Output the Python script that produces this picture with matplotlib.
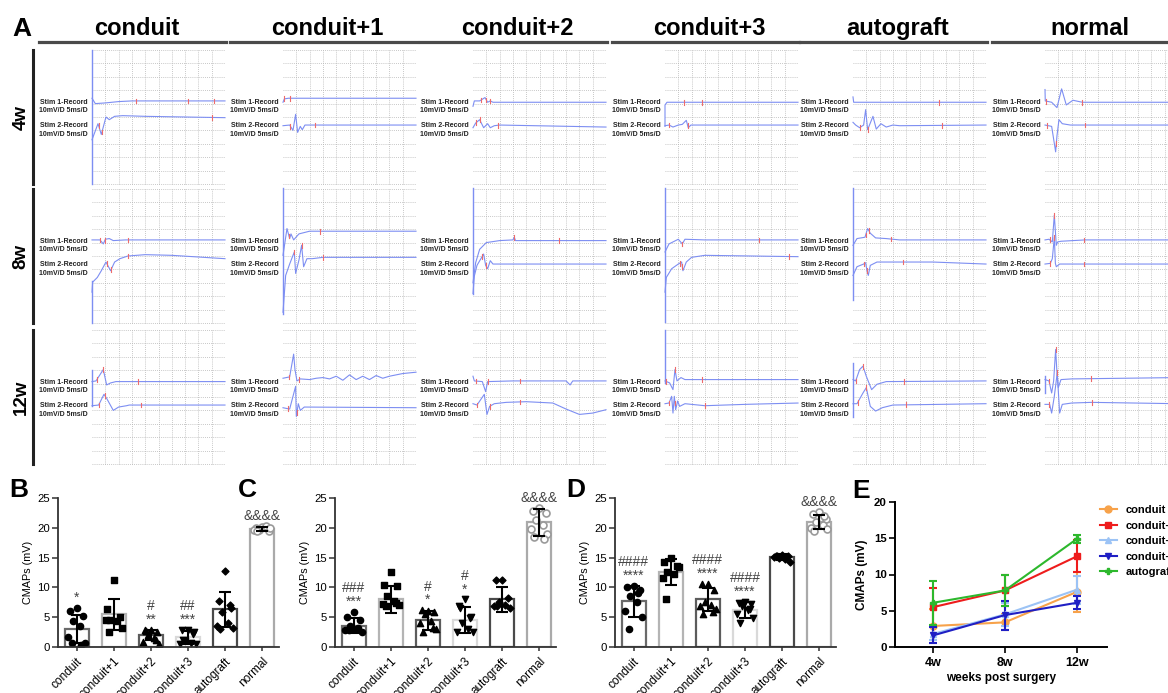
import numpy as np
import matplotlib
matplotlib.use('Agg')
import matplotlib.pyplot as plt
from matplotlib.lines import Line2D

# ---------------- data ----------------
groups = ['conduit', 'conduit+1', 'conduit+2', 'conduit+3', 'autograft', 'normal']
weeks = ['4w', '8w', '12w']

# Panel A traces: points (x div, y div) for Stim1 (s1) and Stim2 (s2); red marker x (k1/k2); artifact span
a4_conduit = dict(s1=[(0, 6.4), (0.25, 6.0), (1.0, 6.05), (2.0, 6.15), (3.0, 6.2), (10, 6.2)], k1=[3.3, 7.2, 9.2],
                  s2=[(0, 3.3), (0.45, 4.5), (0.7, 3.7), (1.05, 5.0), (1.3, 4.8), (1.7, 5.05), (2.3, 5.1), (4, 5.05), (10, 4.95)], k2=[0.5, 0.75, 9.0], art=(0, 10))
a4_conduit1 = dict(s1=[(0, 6.1), (0.1, 6.35), (0.4, 6.4), (10, 6.4)], k1=[0.1, 0.5],
                   s2=[(0, 4.35), (0.5, 4.4), (0.75, 4.0), (0.95, 5.2), (1.1, 3.85), (1.3, 4.3), (1.45, 4.05), (1.65, 4.4), (10, 4.4)], k2=[0.55, 2.4], art=None)
a4_conduit2 = dict(s1=[(0, 5.8), (0.1, 6.2), (0.5, 6.2), (0.9, 6.45), (1.1, 6.1), (1.3, 6.2), (1.5, 6.1), (10, 6.1)], k1=[0.6, 1.0, 1.3],
                   s2=[(0, 4.2), (0.2, 4.55), (0.5, 4.8), (0.8, 4.2), (1.1, 4.5), (1.3, 4.2), (1.6, 4.35), (2.0, 4.4), (10, 4.25)], k2=[0.25, 0.5, 1.9], art=None)
a4_conduit3 = dict(s1=[(0, 4.3), (0, 5.9), (0.15, 6.1), (10, 6.1)], k1=[1.4, 2.8],
                   s2=[(0, 4.35), (0.3, 4.4), (0.6, 4.25), (1.0, 4.4), (1.3, 4.45), (1.6, 4.75), (1.75, 4.2), (1.95, 4.4), (10, 4.4)], k2=[0.3, 1.7], art=None)
a4_autograft = dict(s1=[(0, 6.5), (0.05, 6.1), (10, 6.1)], k1=[6.45],
                    s2=[(0, 4.6), (0.2, 4.4), (0.5, 4.2), (0.8, 4.4), (0.95, 5.55), (1.1, 4.05), (1.5, 5.05), (1.75, 4.1), (2.1, 4.5), (2.5, 4.25), (3.0, 4.4), (3.5, 4.35), (10, 4.4)], k2=[0.5, 1.1, 6.7], art=None)
a4_normal = dict(s1=[(0, 7.05), (0.02, 6.2), (0.5, 6.1), (0.9, 5.7), (1.25, 7.1), (1.6, 5.9), (2.1, 6.25), (2.8, 6.1), (10, 6.1)], k1=[0.1, 2.8],
                 s2=[(0, 4.4), (0.5, 4.3), (0.8, 2.4), (0.9, 3.6), (1.05, 4.8), (1.3, 4.5), (1.9, 4.4), (10, 4.4)], k2=[0.15, 0.85, 3.0], art=None)

a8_conduit = dict(s1=[(0, 6.2), (0.6, 6.2), (0.85, 5.9), (1.0, 6.25), (1.3, 6.3), (1.6, 6.15), (2.5, 6.2), (10, 6.2)], k1=[0.6, 0.95, 2.7],
                  s2=[(0, 2.3), (0.05, 3.05), (0.4, 3.4), (0.7, 3.9), (1.05, 4.55), (1.4, 3.9), (1.7, 4.55), (2.1, 4.8), (2.7, 5.0), (4, 5.1), (6, 5.05), (10, 4.8)], k2=[1.1, 1.45, 2.7], art=(0, 3.1))
a8_conduit1 = dict(s1=[(0, 5.05), (0.3, 7.05), (0.5, 6.3), (0.6, 6.65), (0.8, 6.2), (1.2, 6.65), (2.0, 6.85), (10, 6.85)], k1=[0.45, 2.8],
                   s2=[(0, 0.8), (0.2, 3.55), (0.5, 4.4), (0.85, 5.3), (0.95, 3.7), (1.2, 4.7), (1.4, 5.8), (1.55, 4.2), (1.8, 4.8), (2.2, 4.8), (3.0, 4.9), (10, 4.9)], k2=[0.85, 1.4, 3.0], art=(0.7, 10.1))
a8_conduit2 = dict(s1=[(0, 3.0), (0.2, 4.5), (0.5, 5.5), (1.0, 6.0), (2.0, 6.15), (3.0, 6.2), (3.1, 6.4), (3.2, 6.15), (10, 6.15)], k1=[3.1, 6.5],
                   s2=[(0, 2.2), (0.1, 3.5), (0.3, 4.3), (0.8, 5.15), (0.95, 4.3), (1.1, 4.05), (1.3, 4.65), (1.5, 4.4), (10, 4.4)], k2=[0.7, 0.95], art=(2.2, 10.1))
a8_conduit3 = dict(s1=[(0, 5.3), (0.3, 5.9), (1.0, 6.25), (1.3, 5.9), (1.5, 6.25), (3, 6.2), (10, 6.2)], k1=[1.3, 7.1],
                   s2=[(0, 2.3), (0.1, 3.4), (0.5, 4.05), (1.0, 4.4), (1.25, 4.55), (1.35, 3.9), (1.6, 4.55), (2.0, 4.9), (3.0, 5.05), (10, 4.95)], k2=[1.1, 1.3, 9.3], art=(0.05, 10.1))
a8_autograft = dict(s1=[(0, 5.8), (0.3, 6.3), (0.9, 6.4), (1.1, 7.05), (1.3, 6.7), (1.7, 6.35), (2.5, 6.3), (3.5, 6.2), (10, 6.2)], k1=[0.95, 1.2, 2.85],
                    s2=[(0, 3.55), (0.3, 4.2), (0.8, 4.4), (0.95, 4.5), (1.05, 3.9), (1.15, 3.55), (1.3, 4.3), (1.8, 4.55), (6, 4.55), (10, 4.4)], k2=[0.8, 1.05, 3.75], art=(1.7, 10.1))
a8_normal = dict(s1=[(0, 6.2), (0.3, 6.25), (0.55, 6.05), (0.7, 8.05), (0.85, 5.8), (0.95, 6.05), (1.2, 6.1), (3, 6.2), (10, 6.2)], k1=[0.35, 0.7, 2.95],
                 s2=[(0, 4.4), (0.4, 4.45), (0.55, 4.8), (0.7, 6.4), (0.78, 4.45), (0.85, 4.2), (1.1, 4.4), (10, 4.4)], k2=[0.4, 0.7, 2.95], art=None)

a12_conduit = dict(s1=[(0, 6.15), (0.3, 6.2), (0.85, 7.05), (1.1, 5.9), (1.4, 6.05), (1.8, 6.15), (10, 6.15)], k1=[0.35, 0.85, 3.45],
                   s2=[(0, 4.35), (0.5, 4.4), (0.9, 5.2), (1.1, 4.9), (1.6, 4.0), (2.0, 4.25), (2.6, 4.35), (2.8, 4.4), (10, 4.4)], k2=[0.5, 0.95, 3.7], art=(4.3, 7.05))
a12_conduit1 = dict(s1=[(0, 6.4), (0.5, 6.5), (0.8, 8.2), (0.9, 7.05), (1.05, 6.2), (1.3, 6.35), (2, 6.3), (2.5, 6.4), (3, 6.45), (3.5, 6.35), (4, 6.55), (4.5, 6.25), (5, 6.65), (5.5, 6.3), (6, 6.55), (6.5, 6.3), (7, 6.6), (7.5, 6.4), (8, 6.55), (9, 6.75), (10, 6.85)], k1=[0.45, 1.2],
                    s2=[(0, 4.2), (0.5, 4.1), (0.95, 5.8), (1.0, 3.55), (1.15, 4.5), (1.3, 4.0), (1.6, 4.25), (10, 4.2)], k2=[0.4, 1.05], art=None)
a12_conduit2 = dict(s1=[(0, 6.55), (0.1, 6.2), (0.7, 6.15), (0.95, 5.4), (1.1, 6.15), (3, 6.2), (7, 6.2), (7.3, 5.9), (7.5, 6.2), (10, 6.2)], k1=[0.25, 1.1, 3.5],
                    s2=[(0, 4.5), (0.3, 4.4), (0.85, 5.2), (1.05, 3.7), (1.25, 4.3), (1.6, 4.5), (2.5, 4.6), (4, 4.65), (6, 4.55), (7, 4.1), (8, 3.7), (9, 3.8), (10, 4.05)], k2=[0.3, 1.25, 3.5], art=None)
a12_conduit3 = dict(s1=[(0, 6.2), (0.35, 6.05), (0.6, 5.55), (0.75, 7.05), (0.9, 6.2), (1.2, 6.45), (1.5, 6.3), (10, 6.3)], k1=[0.1, 0.75, 2.8],
                    s2=[(0, 4.5), (0.3, 4.55), (0.5, 5.05), (0.6, 3.8), (0.7, 5.05), (0.8, 4.05), (0.95, 4.7), (1.1, 4.3), (1.5, 4.5), (3, 4.35), (6, 4.45), (10, 4.55)], k2=[0.3, 0.75, 3.0], art=(6.05, 10.0))
a12_autograft = dict(s1=[(0, 6.3), (0.2, 6.2), (0.5, 7.05), (0.75, 7.3), (1.0, 6.55), (1.4, 5.55), (1.8, 5.95), (2.5, 6.15), (10, 6.2)], k1=[0.2, 0.75, 3.85],
                     s2=[(0, 4.5), (0.3, 4.5), (0.75, 5.3), (1.0, 5.7), (1.3, 4.3), (1.7, 3.95), (2.2, 4.2), (3, 4.4), (10, 4.5)], k2=[0.35, 1.0, 3.95], art=(3.5, 7.55))
a12_normal = dict(s1=[(0, 6.3), (0.3, 6.2), (0.5, 5.3), (0.65, 6.2), (0.8, 8.55), (0.9, 6.8), (1.0, 5.7), (1.2, 6.3), (2, 6.35), (10, 6.45)], k1=[0.3, 0.8, 3.45],
                  s2=[(0, 4.45), (0.35, 4.45), (0.5, 3.8), (0.7, 5.05), (0.92, 6.8), (1.1, 3.8), (1.3, 4.45), (2, 4.55), (3.5, 4.6), (10, 4.5)], k2=[0.3, 0.92, 3.5], art=(5.3, 6.6))

traces_rows = [
    [a4_conduit, a4_conduit1, a4_conduit2, a4_conduit3, a4_autograft, a4_normal],
    [a8_conduit, a8_conduit1, a8_conduit2, a8_conduit3, a8_autograft, a8_normal],
    [a12_conduit, a12_conduit1, a12_conduit2, a12_conduit3, a12_autograft, a12_normal],
]

# Panel B (4w) CMAPs
b_means = [3.0, 5.5, 2.0, 1.6, 6.3, 19.8]
b_sds = [2.3, 2.6, 0.9, 1.1, 2.9, 0.4]
b_pts = [[6.6, 6.0, 5.2, 4.3, 3.5, 1.6, 0.7, 0.7, 0.4],
         [11.2, 6.3, 5.0, 4.5, 4.3, 4.6, 3.2, 2.6],
         [2.9, 2.8, 2.5, 2.0, 1.5, 0.8, 0.5, 2.7, 1.2],
         [2.9, 2.8, 2.6, 1.0, 0.6, 0.5, 0.5, 1.2, 2.2],
         [12.7, 7.8, 6.5, 5.8, 4.0, 3.5, 3.2, 3.0, 7.0],
         [20.2, 19.9, 19.5, 19.7, 20.3, 19.6, 20.0, 19.4]]
b_annot = ['*', '', '#\n**', '##\n***', '', '&&&&']

# Panel C (8w)
c_means = [3.6, 8.0, 4.5, 4.5, 8.0, 20.9]
c_sds = [1.2, 2.3, 1.6, 2.2, 2.1, 2.2]
c_pts = [[5.9, 5.0, 4.5, 3.5, 3.0, 2.8, 2.6, 2.9, 3.2],
         [12.6, 10.4, 10.2, 8.6, 7.8, 7.2, 7.0, 6.8, 7.3],
         [6.0, 6.2, 5.8, 5.5, 4.3, 4.0, 3.0, 2.6, 3.2],
         [8.0, 6.8, 5.0, 4.0, 3.0, 2.5, 2.6, 6.5, 4.8],
         [11.3, 11.2, 8.3, 7.6, 7.0, 6.8, 6.6, 6.9],
         [23.4, 22.9, 22.5, 21.3, 20.4, 19.8, 19.0, 18.5, 18.2]]
c_annot = ['###\n***', '', '#\n*', '#\n*', '', '&&&&']

# Panel D (12w)
d_means = [7.7, 12.6, 8.0, 6.2, 15.1, 21.0]
d_sds = [2.6, 2.2, 1.9, 1.4, 0.5, 1.2]
d_pts = [[10.2, 10.0, 9.5, 8.6, 7.5, 6.0, 5.0, 3.0, 9.0],
         [15.0, 14.2, 13.6, 12.6, 12.2, 11.6, 13.4, 8.0],
         [10.5, 10.6, 9.5, 7.5, 7.0, 6.8, 6.4, 5.6, 5.8],
         [7.6, 7.4, 7.2, 6.8, 6.2, 5.5, 4.8, 4.0, 6.4],
         [15.4, 15.3, 15.2, 15.0, 14.8, 15.1, 14.3, 15.3],
         [22.6, 22.3, 21.5, 21.0, 20.4, 20.0, 19.8, 19.5, 22.0]]
d_annot = ['####\n****', '', '####\n****', '####\n****', '', '&&&&']

# Panel E: time course
e_series = ['conduit', 'conduit+1', 'conduit+2', 'conduit+3', 'autograft']
e_means = [[2.9, 3.4, 7.6], [5.5, 7.8, 12.5], [1.8, 4.5, 7.9], [1.6, 4.4, 6.1], [6.1, 7.8, 14.9]]
e_sds = [[2.4, 1.1, 2.8], [2.6, 2.2, 2.2], [0.9, 1.6, 1.9], [1.1, 2.0, 0.9], [3.0, 2.2, 0.6]]

# ---------------- styling ----------------
W, H = 1168, 693
plt.rcParams['font.family'] = ['Liberation Sans', 'DejaVu Sans']
fig = plt.figure(figsize=(W / 100, H / 100), dpi=100)


def rect(x, y, w, h):
    return [x / W, 1 - (y + h) / H, w / W, h / H]


TRACE = '#7d8ef2'
RED = '#ee6b6b'
GRIDC = '#b5b5b5'

grid_x0 = [92, 283, 473, 665, 853, 1045]
row_top = [50, 189, 330]
CW, CH = 133, 134

# headers
for c, name in enumerate(groups):
    gx = grid_x0[c]
    fig.text((gx - 53 + gx + 134) / 2 / W + 4 / W, 1 - 35 / H, name, ha='center', va='baseline',
             fontsize=17, fontweight='bold')
    fig.add_artist(Line2D([(gx - 53) / W, (gx + 134) / W], [1 - 42 / H, 1 - 42 / H],
                          color='#4a4a4a', lw=2.3))
fig.text(12 / W, 1 - 36 / H, 'A', fontsize=19, fontweight='bold', ha='left', va='baseline')

for r, wk in enumerate(weeks):
    rt = row_top[r]
    fig.text(21 / W, 1 - (rt + CH / 2) / H, wk, rotation=90, ha='center', va='center',
             fontsize=13.5, fontweight='bold')
    fig.add_artist(Line2D([33 / W, 33 / W], [1 - rt / H, 1 - (rt + CH) / H], color='#222222', lw=2.2))
    for c in range(6):
        tr = traces_rows[r][c]
        ax = fig.add_axes(rect(grid_x0[c], rt, CW, CH))
        ax.set_xlim(0, 10)
        ax.set_ylim(0, 10)
        ax.axis('off')
        for i in range(1, 10):
            ax.plot([i, i], [0, 10], color=GRIDC, lw=0.6, ls=(0, (1, 1.5)), clip_on=False)
        for j in range(0, 11):
            ax.plot([0, 10], [j, j], color=GRIDC, lw=0.6, ls=(0, (1, 1.5)), clip_on=False)
        for txt, yy in [('Stim 1-Record', 6.05), ('10mV/D 5ms/D', 5.45), ('Stim 2-Record', 4.33), ('10mV/D 5ms/D', 3.73)]:
            ax.text(-0.3, yy, txt, ha='right', va='center', fontsize=5, fontweight='bold', color='#222222')
        if tr['art'] is not None:
            ax.plot([0, 0], list(tr['art']), color=TRACE, lw=1.0, clip_on=False)
        for sk, kk in [('s1', 'k1'), ('s2', 'k2')]:
            xs = [p[0] for p in tr[sk]]
            ys = [p[1] for p in tr[sk]]
            ax.plot(xs, ys, color=TRACE, lw=0.8, clip_on=False)
            for k in tr[kk]:
                yk = np.interp(k, xs, ys)
                ax.plot([k, k], [yk - 0.18, yk + 0.18], color=RED, lw=0.8, clip_on=False)

# ---------------- bar panels ----------------
edge_cols = ['#6a6a6a', '#b4b4b4', '#5c5c5c', '#d9d9d9', '#4a4a4a', '#aaaaaa']
markers = ['o', 's', '^', 'v', 'D', 'o']
msizes = [4.5, 4.5, 4.5, 4.5, 3.5, 5]
jit = [0, -0.17, 0.17, -0.09, 0.09, -0.22, 0.22, -0.13, 0.13]


def bar_panel(x0, letter_x, means, sds, pts, annots, letter):
    ax = fig.add_axes(rect(x0, 498, 221, 149))
    for i in range(6):
        ax.bar(i, means[i], width=0.65, facecolor='white', edgecolor=edge_cols[i], linewidth=1.6, zorder=1)
        vals = pts[i]
        xo = [i + jit[k % len(jit)] for k in range(len(vals))]
        if i == 5:
            ax.scatter(xo, vals, s=msizes[i] ** 2, marker=markers[i], facecolor='white',
                       edgecolor='#9a9a9a', linewidth=1.2, zorder=2)
        else:
            ax.scatter(xo, vals, s=msizes[i] ** 2, marker=markers[i], color='black', zorder=2)
        ax.errorbar(i, means[i], yerr=sds[i], color='black', lw=1.5, capsize=4.5, capthick=1.5, zorder=3)
        if annots[i]:
            top = max(max(vals), means[i] + sds[i])
            ax.text(i, top + 0.5, annots[i], ha='center', va='bottom', fontsize=10, color='#444444',
                    linespacing=0.95)
    ax.set_xlim(-0.5, 5.45)
    ax.set_ylim(0, 25)
    ax.set_yticks([0, 5, 10, 15, 20, 25])
    ax.set_xticks(range(6))
    ax.set_xticklabels(groups, rotation=45, ha='right', rotation_mode='anchor', fontsize=8.5)
    ax.tick_params(axis='y', labelsize=8.2, length=4, width=1.1, color='#333333', pad=2)
    ax.tick_params(axis='x', length=3, width=1.1, color='#333333', pad=3)
    for s in ['top', 'right']:
        ax.spines[s].set_visible(False)
    for s in ['left', 'bottom']:
        ax.spines[s].set_linewidth(1.3)
        ax.spines[s].set_color('#333333')
    ax.set_ylabel('CMAPs (mV)', fontsize=7.8, labelpad=3)
    fig.text(letter_x / W, 1 - 497 / H, letter, fontsize=19, fontweight='bold', ha='left', va='baseline')
    return ax


bar_panel(58, 9, b_means, b_sds, b_pts, b_annot, 'B')
bar_panel(335, 238, c_means, c_sds, c_pts, c_annot, 'C')
bar_panel(615, 566, d_means, d_sds, d_pts, d_annot, 'D')

# ---------------- panel E ----------------
e_colors = ['#f7a24a', '#ee1c1c', '#9cc3f5', '#1f1fc4', '#2db82d']
e_markers = ['o', 's', '^', 'v', 'P']
axE = fig.add_axes(rect(895, 502, 212, 145))
xpos = np.arange(3)
order = [4, 1, 2, 3, 0]
for i in order:
    axE.errorbar(xpos, e_means[i], yerr=e_sds[i], color=e_colors[i], marker=e_markers[i], ms=5,
                 lw=1.5, capsize=3, capthick=1.5, zorder=3 + i * 0.1)
axE.set_xlim(-0.53, 2.42)
axE.set_ylim(0, 20)
axE.set_yticks([0, 5, 10, 15, 20])
axE.set_xticks(xpos)
axE.set_xticklabels(weeks)
for lab in axE.get_xticklabels() + axE.get_yticklabels():
    lab.set_fontweight('bold')
axE.tick_params(axis='y', labelsize=8.2, length=4, width=1.2, pad=2)
axE.tick_params(axis='x', labelsize=9, length=4, width=1.2, pad=3)
for s in ['top', 'right']:
    axE.spines[s].set_visible(False)
for s in ['left', 'bottom']:
    axE.spines[s].set_linewidth(1.4)
axE.set_ylabel('CMAPs (mV)', fontsize=8.5, fontweight='bold', labelpad=4)
axE.set_xlabel('weeks post surgery', fontsize=8.5, fontweight='bold', labelpad=2)
handles = [Line2D([], [], color=e_colors[i], marker=e_markers[i], ms=5, lw=1.5) for i in range(5)]
fig.legend(handles, e_series, loc='upper left', bbox_to_anchor=(1100 / W, 1 - 505 / H), frameon=False,
           prop={'weight': 'bold', 'size': 8}, handlelength=1.5, handletextpad=0.8, labelspacing=0.5,
           borderpad=0, borderaxespad=0)
fig.text(852 / W, 1 - 498 / H, 'E', fontsize=19, fontweight='bold', ha='left', va='baseline')

fig.savefig('out.png', dpi=100)
